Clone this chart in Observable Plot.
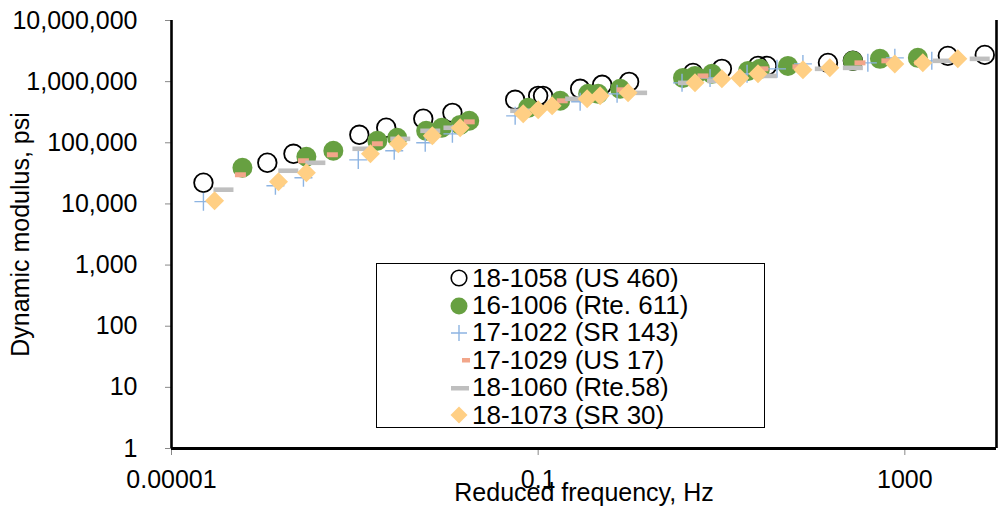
<!DOCTYPE html>
<html>
<head>
<meta charset="utf-8">
<script src="https://cdn.jsdelivr.net/npm/d3@7"></script>
<script src="https://cdn.jsdelivr.net/npm/@observablehq/plot@0.6"></script>
<style>
  html, body { margin: 0; padding: 0; background: #fff; }
  #wrap { position: relative; width: 1005px; height: 517px; font-family: "Liberation Sans", Arial, sans-serif; }
  #legend {
    position: absolute; left: 376px; top: 263px; width: 387px; height: 163px;
    border: 1.3px solid #000; background: #fff; box-sizing: content-box;
  }
  #legend .row { display: flex; align-items: center; height: 27.4px; padding-left: 70px; font-size: 26px; color: #000; }
  #legend .row:first-child { margin-top: 0.5px; }
  #legend .row svg { width: 24px; height: 24px; margin-right: 1px; flex: none; }
  svg.chart .tick line, svg.chart [aria-label$="tick"] { stroke: #888; }
</style>
</head>
<body>
<div id="wrap"><div id="chart"></div><div id="legend"></div></div>
<script>
// ---- Data ----
const seriesNames = ["18-1058 (US 460)", "16-1006 (Rte. 611)", "17-1022 (SR 143)", "17-1029 (US 17)", "18-1060 (Rte.58)", "18-1073 (SR 30)"];

const us460Freq = [2.23e-5, 1.11e-4, 2.14e-4, 1.12e-3, 2.20e-3, 5.58e-3, 0.0116, 0.0561, 0.1, 0.113, 0.287, 0.499, 0.982, 4.89, 10.1, 25.0, 31.3, 145, 271, 2944, 7447];
const us460Mod  = [22200, 47100, 66100, 135000, 176000, 247000, 309000, 505000, 586000, 586000, 763000, 887000, 993000, 1390000, 1620000, 1810000, 1810000, 2030000, 2190000, 2640000, 2740000];

const rte611Freq = [5.94e-5, 2.96e-4, 5.83e-4, 1.76e-3, 2.90e-3, 6.0e-3, 8.9e-3, 0.0141, 0.0177, 0.0778, 0.174, 0.351, 0.451, 0.784, 3.80, 5.14, 7.87, 19.5, 26.3, 53.1, 271, 535, 1387];
const rte611Mod  = [39100, 59000, 74000, 108000, 121000, 157000, 176000, 196000, 229000, 373000, 486000, 632000, 632000, 763000, 1150000, 1240000, 1340000, 1500000, 1620000, 1810000, 2190000, 2360000, 2450000];

const sr143Freq = [2.23e-5, 1.36e-4, 2.75e-4, 1.09e-3, 2.69e-3, 5.86e-3, 0.0116, 0.0561, 0.287, 0.726, 3.71, 7.50, 19.0, 40.3, 77.3, 395, 778, 1968];
const sr143Mod  = [10900, 19800, 26800, 52500, 74000, 100000, 140000, 276000, 468000, 632000, 955000, 1150000, 1340000, 1620000, 1950000, 2030000, 2450000, 2190000];

const us17Freq = [5.65e-5, 2.75e-4, 5.69e-4, 1.76e-3, 6.65e-3, 0.0177, 0.183, 0.824, 6.28, 28.3, 68.2, 324, 637, 1456];
const us17Mod  = [30000, 50800, 63700, 96400, 146000, 220000, 486000, 735000, 1240000, 1620000, 1750000, 2030000, 2190000, 2030000];

const rte58Freq = [3.69e-5, 1.88e-4, 3.71e-4, 1.21e-3, 3.13e-3, 6.65e-3, 0.0119, 0.0637, 0.253, 1.20, 4.31, 8.93, 31.3, 134, 271, 2594, 6561];
const rte58Mod  = [17100, 34900, 47100, 79800, 116000, 157000, 176000, 334000, 524000, 656000, 955000, 1030000, 1240000, 1620000, 1680000, 2190000, 2360000];

const sr30Freq = [2.95e-5, 1.47e-4, 2.96e-4, 1.48e-3, 2.98e-3, 7.00e-3, 0.0141, 0.0687, 0.1, 0.142, 0.342, 0.474, 0.957, 5.14, 10.1, 15.9, 25.0, 77.3, 152, 778, 1570, 3784];
const sr30Mod  = [11300, 23100, 32300, 66100, 96400, 130000, 176000, 298000, 346000, 403000, 524000, 586000, 656000, 955000, 1110000, 1150000, 1340000, 1560000, 1680000, 1950000, 2030000, 2360000];

const xDomain = [1e-5, 1e4];
const yDomain = [1, 1e7];
const xTicks = [1e-5, 0.1, 1000];
const xTickLabels = ["0.00001", "0.1", "1000"];
const yTicks = [1, 10, 100, 1000, 10000, 100000, 1000000, 10000000];

// ---- Marker shapes ----
const symOpen = { draw(c) { c.moveTo(9.3, 0); c.arc(0, 0, 9.3, 0, 2 * Math.PI); } };
const symFilled = { draw(c) { c.moveTo(10, 0); c.arc(0, 0, 10, 0, 2 * Math.PI); } };
const symPlus = { draw(c) { c.moveTo(-9, 0); c.lineTo(9, 0); c.moveTo(0, -9); c.lineTo(0, 9); } };
const symShortDash = { draw(c) { c.rect(-5.5, -2.5, 11, 5); } };
const symLongDash = { draw(c) { c.rect(-10, -2.3, 20, 4.6); } };
const symDiamond = { draw(c) { c.moveTo(0, -9.5); c.lineTo(9.5, 0); c.lineTo(0, 9.5); c.lineTo(-9.5, 0); c.closePath(); } };

const styles = [
  { symbol: symOpen, fill: "none", stroke: "#000", strokeWidth: 1.8 },
  { symbol: symFilled, fill: "#67a041", stroke: "none" },
  { symbol: symPlus, fill: "none", stroke: "#8db4e2", strokeWidth: 1.4 },
  { symbol: symShortDash, fill: "#f2a68a", stroke: "none" },
  { symbol: symLongDash, fill: "#bfbfbf", stroke: "none" },
  { symbol: symDiamond, fill: "#ffcf84", stroke: "none" }
];

const freqs = [us460Freq, rte611Freq, sr143Freq, us17Freq, rte58Freq, sr30Freq];
const mods = [us460Mod, rte611Mod, sr143Mod, us17Mod, rte58Mod, sr30Mod];
const tables = seriesNames.map((name, i) => freqs[i].map((f, j) => ({ series: name, f, E: mods[i][j] })));

const fmtX = d => {
  let best = 0;
  xTicks.forEach((t, i) => { if (Math.abs(Math.log10(t) - Math.log10(d)) < Math.abs(Math.log10(xTicks[best]) - Math.log10(d))) best = i; });
  return xTickLabels[best];
};

const chart = Plot.plot({
  width: 1005,
  height: 517,
  marginLeft: 171,
  marginRight: 9,
  marginTop: 20,
  marginBottom: 69,
  className: "chart",
  style: { fontFamily: "'Liberation Sans', Arial, sans-serif", fontSize: "25px", color: "#000", background: "#fff", overflow: "visible" },
  x: { type: "log", domain: xDomain, ticks: xTicks, tickFormat: fmtX, tickSize: 7, tickPadding: 15,
       label: "Reduced frequency, Hz", labelAnchor: "center", labelOffset: 52, labelArrow: "none" },
  y: { type: "log", domain: yDomain, ticks: yTicks, tickFormat: d3.format(","), tickSize: 6, tickPadding: 28,
       label: "Dynamic modulus, psi", labelAnchor: "center", labelOffset: 160, labelArrow: "none" },
  marks: [
    ...tables.map((t, i) => Plot.dot(t, { x: "f", y: "E", ...styles[i] })),
    Plot.ruleX([xDomain[0]], { stroke: "#000", strokeWidth: 2.6 }),
    Plot.ruleX([xDomain[1]], { stroke: "#000", strokeWidth: 2.6 }),
    Plot.ruleY([yDomain[0]], { stroke: "#000", strokeWidth: 2.8 })
  ]
});
document.getElementById("chart").appendChild(chart);

// ---- Legend (HTML overlay inside the plot area) ----
const legend = document.getElementById("legend");
const legendShapes = [
  '<circle cx="12" cy="12" r="7.8" fill="none" stroke="#000" stroke-width="1.6"/>',
  '<circle cx="12" cy="12" r="8.5" fill="#67a041"/>',
  '<path d="M4,12H20M12,4V20" stroke="#8db4e2" stroke-width="1.4" fill="none"/>',
  '<rect x="15" y="10" width="8" height="4.5" fill="#f2a68a"/>',
  '<rect x="4" y="10" width="18" height="4.5" fill="#bfbfbf"/>',
  '<path d="M12,3.5L20.5,12L12,20.5L3.5,12Z" fill="#ffcf84"/>'
];
seriesNames.forEach((name, i) => {
  const row = document.createElement("div");
  row.className = "row";
  row.innerHTML = `<svg viewBox="0 0 24 24">${legendShapes[i]}</svg><span>${name}</span>`;
  legend.appendChild(row);
});
</script>
</body>
</html>
